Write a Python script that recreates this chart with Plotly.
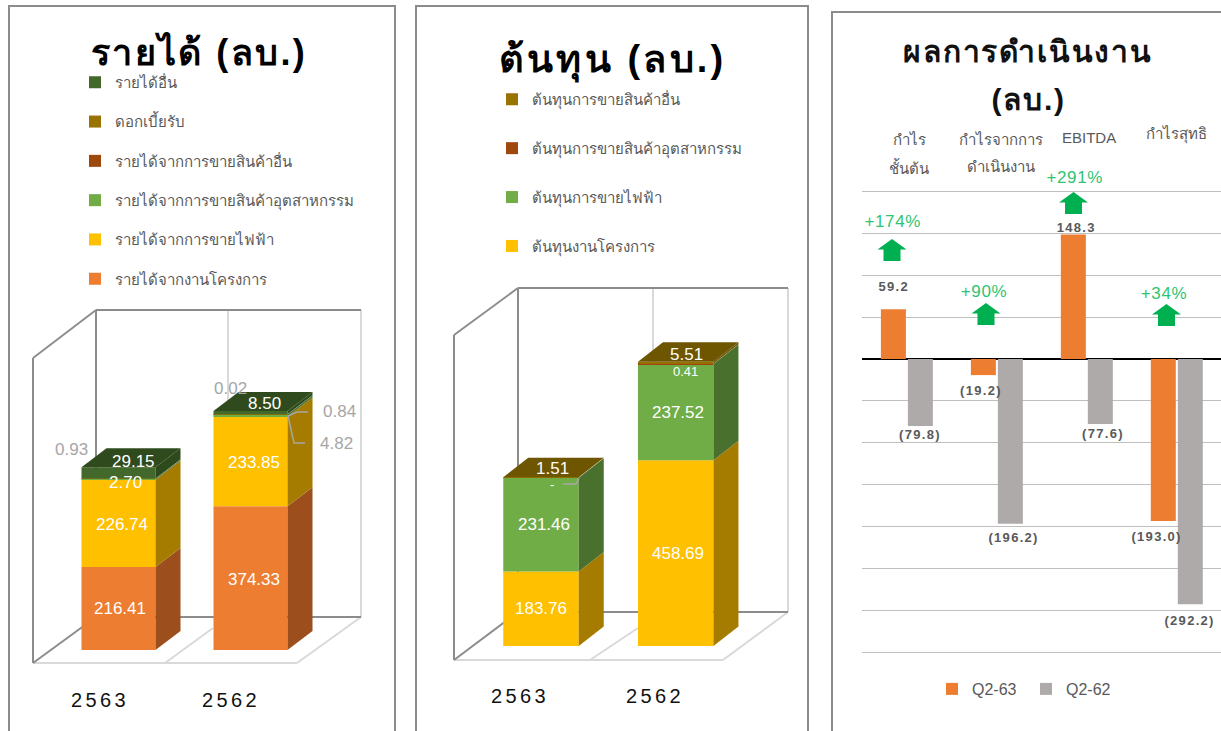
import plotly.graph_objects as go

W, H = 1221, 731
FONT = "Liberation Sans, Noto Sans, DejaVu Sans, sans-serif"

# ---------- data ----------
years = ["2563", "2562"]
rev_names = ["รายได้จากงานโครงการ", "รายได้จากการขายไฟฟ้า", "รายได้จากการขายสินค้าอุตสาหกรรม",
             "รายได้จากการขายสินค้าอื่น", "ดอกเบี้ยรับ", "รายได้อื่น"]
rev_project = [216.41, 374.33]
rev_power = [226.74, 233.85]
rev_industry = [2.70, 4.82]
rev_goods = [0.0, 0.02]
rev_interest = [0.93, 0.84]
rev_other = [29.15, 8.50]

cost_names = ["ต้นทุนงานโครงการ", "ต้นทุนการขายไฟฟ้า", "ต้นทุนการขายสินค้าอุตสาหกรรม", "ต้นทุนการขายสินค้าอื่น"]
cost_project = [183.76, 458.69]
cost_power = [231.46, 237.52]
cost_industry = [0.0, 0.41]
cost_goods = [1.51, 5.51]

perf_categories = ["กำไรขั้นต้น", "กำไรจากการดำเนินงาน", "EBITDA", "กำไรสุทธิ"]
q2_63 = [59.2, -19.2, 148.3, -193.0]
q2_62 = [-79.8, -196.2, -77.6, -292.2]
perf_changes = ["+174%", "+90%", "+291%", "+34%"]

# ---------- styles ----------
ORANGE, YELLOW, GREEN, BROWN, OLIVE, DGREEN = "#ED7D31", "#FFC000", "#70AD47", "#9E480E", "#997300", "#43682B"
SIDE = {ORANGE: "#9C4F1D", YELLOW: "#A67C00", GREEN: "#4A702E", BROWN: "#6B310A", OLIVE: "#6E5300", DGREEN: "#2D4A1C"}
TOP = {OLIVE: "#6E5500", DGREEN: "#2F4B1D"}
GREY_BAR = "#AEAAAA"
LBL_GREY = "#A6A6A6"
TXT = "#595959"

P1 = dict(x0=118.5, xs=132.0, y0=650.0, ys=0.384, bw=74, dx=25, dy=19, dom=(11, 393, 300, 686))
P2 = dict(x0=541.0, xs=134.7, y0=646.0, ys=0.405, bw=75.5, dx=25, dy=19.5, dom=(418, 806, 280, 682))


def X(p, px):
    return (px - p["x0"]) / p["xs"]


def Y(p, py):
    return (p["y0"] - py) / p["ys"]


fig = go.Figure()
shapes, annots = [], []


def note(px, py, text, size=17, color="white", bold=False):
    annots.append(dict(xref="paper", yref="paper", x=px / W, y=1 - py / H, text=f"<b>{text}</b>" if bold else text,
                       showarrow=False, xanchor="center", yanchor="middle",
                       font=dict(family=FONT, size=size, color=color)))


def axes(p, suffix, tickpos):
    l, r, t, b = p["dom"]
    xa = dict(domain=[l / W, r / W], range=[X(p, l), X(p, r)], showgrid=False, zeroline=False, showline=False,
              tickmode="array", tickvals=tickpos, ticktext=years, ticks="", anchor="y" + suffix,
              tickfont=dict(family=FONT, size=20, color="#111111"))
    ya = dict(domain=[1 - b / H, 1 - t / H], range=[Y(p, b), Y(p, t)], showgrid=False, zeroline=False,
              showticklabels=False, anchor="x" + suffix)
    fig.update_layout({"xaxis" + suffix: xa, "yaxis" + suffix: ya})


def stack(p, suffix, names, series, colors, legend):
    pos = [0, 1]
    bases = [0.0, 0.0]
    bw, dx, dy = p["bw"] / p["xs"], p["dx"] / p["xs"], p["dy"] / p["ys"]
    for rank, (name, vals, col) in enumerate(zip(names, series, colors)):
        fig.add_trace(go.Bar(x=pos, y=vals, base=list(bases), name=name, marker=dict(color=col, line_width=0),
                             width=bw, xaxis="x" + suffix, yaxis="y" + suffix, legend=legend, legendgroup=name,
                             legendrank=100 - rank, hoverinfo="skip"))
        for i in pos:
            b, t = bases[i], bases[i] + vals[i]
            if vals[i] <= 0:
                continue
            xr = i + bw / 2
            fig.add_trace(go.Scatter(x=[xr, xr + dx, xr + dx, xr, xr], y=[b, b + dy, t + dy, t, b], mode="lines",
                                     fill="toself", fillcolor=SIDE[col], line=dict(width=0), showlegend=False,
                                     xaxis="x" + suffix, yaxis="y" + suffix, hoverinfo="skip"))
        bases = [bases[j] + vals[j] for j in pos]
    for i in pos:
        col = colors[-1]
        xl, xr, t = i - bw / 2, i + bw / 2, bases[i]
        fig.add_trace(go.Scatter(x=[xl, xr, xr + dx, xl + dx, xl], y=[t, t, t + dy, t + dy, t], mode="lines",
                                 fill="toself", fillcolor=TOP[col], line=dict(width=0), showlegend=False,
                                 xaxis="x" + suffix, yaxis="y" + suffix, hoverinfo="skip"))


def walls(p, suffix, backx, backtop, backbot, frontx, fronttop, frontbot, floorright, midback, midfront, midjoin):
    def seg(a, b, c, d, col, w):
        shapes.append(dict(type="line", xref="x" + suffix, yref="y" + suffix, x0=X(p, a), y0=Y(p, b), x1=X(p, c),
                           y1=Y(p, d), line=dict(color=col, width=w), layer="below"))
    light, dark = "#D9D9D9", "#8C8C8C"
    seg(midback, backtop, midback, backbot, light, 2)
    seg(backx[1], backtop, backx[1], backbot, light, 2)
    seg(frontx, frontbot, floorright, frontbot, light, 2)
    seg(floorright, frontbot, backx[1], backbot, light, 2)
    seg(midfront, frontbot, midjoin[0], midjoin[1], light, 2)
    seg(backx[0], backtop, backx[1], backtop, dark, 2)
    seg(backx[0], backbot, backx[1], backbot, dark, 2)
    seg(backx[0], backtop, backx[0], backbot, dark, 2)
    seg(frontx, fronttop, frontx, frontbot, dark, 2)
    seg(frontx, fronttop, backx[0], backtop, dark, 2)
    seg(frontx, frontbot, backx[0], backbot, dark, 2)


# ---------- panel frames ----------
for a, b, c in [(9, 395, 6), (416, 808, 6), (832, 1225, 12)]:
    shapes.append(dict(type="path", xref="paper", yref="paper",
                       path=f"M{a/W},{0} L{a/W},{1-c/H} L{b/W},{1-c/H} L{b/W},0", line=dict(color="#8C8C8C", width=2)))

# ---------- panel 1 ----------
axes(P1, "", [X(P1, 100), X(P1, 231)])
walls(P1, "", (96, 361), 310, 617, 33, 358, 663, 297, 228, 165, (213, 628))
stack(P1, "", rev_names, [rev_project, rev_power, rev_industry, rev_goods, rev_interest, rev_other],
      [ORANGE, YELLOW, GREEN, BROWN, OLIVE, DGREEN], "legend")
note(199, 52, "รายได้ (ลบ.)", 36, "#000000", True)
for px, py, v in [(120, 608, rev_project[0]), (122, 524, rev_power[0]), (254, 462, rev_power[1]),
                  (254, 579, rev_project[1]), (125, 482, rev_industry[0]), (133, 461, rev_other[0]),
                  (264, 403, rev_other[1])]:
    note(px, py, f"{v:.2f}")
for px, py, v in [(71, 449, rev_interest[0]), (230, 388, rev_goods[1]), (339, 411, rev_interest[1]),
                  (336, 443, rev_industry[1])]:
    note(px, py, f"{v:.2f}", color=LBL_GREY)
for xs, ys in [([288, 297, 308], [416, 412, 412]), ([288, 294, 305], [416, 443, 443])]:
    fig.add_trace(go.Scatter(x=[X(P1, a) for a in xs], y=[Y(P1, b) for b in ys], mode="lines", showlegend=False,
                             line=dict(color=LBL_GREY, width=1.5), xaxis="x", yaxis="y", hoverinfo="skip"))

# ---------- panel 2 ----------
axes(P2, "2", [X(P2, 520), X(P2, 655)])
walls(P2, "2", (518, 788), 288, 612, 454, 335, 660, 723, 653, 590, (638, 628))
stack(P2, "2", cost_names, [cost_project, cost_power, cost_industry, cost_goods], [YELLOW, GREEN, BROWN, OLIVE], "legend2")
note(612, 60, "ต้นทุน (ลบ.)", 38, "#000000", True)
for px, py, v in [(541, 608, cost_project[0]), (544, 524, cost_power[0]), (678, 412, cost_power[1]),
                  (678, 553, cost_project[1]), (552, 468, cost_goods[0]), (686, 354, cost_goods[1])]:
    note(px, py, f"{v:.2f}")
note(685, 371, f"{cost_industry[1]:.2f}", 13)
note(552, 484, "-", 13)
fig.add_trace(go.Scatter(x=[X(P2, a) for a in [563, 576, 579]], y=[Y(P2, b) for b in [484, 484, 478]], mode="lines",
                         showlegend=False, line=dict(color=LBL_GREY, width=1.5), xaxis="x2", yaxis="y2", hoverinfo="skip"))

# ---------- panel 3 ----------
YS3 = 41.96 / 50
fig.update_layout(
    xaxis3=dict(domain=[862 / W, 1], range=[-0.5, 3.49], showgrid=False, zeroline=False, showticklabels=False,
                ticks="", anchor="y3"),
    yaxis3=dict(domain=[1 - 656 / H, 1 - 188 / H], range=[(359 - 656) / YS3, (359 - 188) / YS3], tick0=0, dtick=50,
                showgrid=True, gridcolor="#BFBFBF", gridwidth=1, zeroline=True, zerolinecolor="#000000",
                zerolinewidth=2, showticklabels=False, ticks="", anchor="x3"),
)
pos3 = [0, 1, 2, 3]
bw3 = 25 / 90
fig.add_trace(go.Bar(x=pos3, y=q2_63, name="Q2-63", marker=dict(color=ORANGE, line_width=0), width=bw3, offset=-0.29,
                     xaxis="x3", yaxis="y3", legend="legend3", hoverinfo="skip"))
fig.add_trace(go.Bar(x=pos3, y=q2_62, name="Q2-62", marker=dict(color=GREY_BAR, line_width=0), width=bw3, offset=0.01,
                     xaxis="x3", yaxis="y3", legend="legend3", hoverinfo="skip"))
note(1028, 51, "ผลการดำเนินงาน", 30, "#111111", True)
note(1028, 100, "(ลบ.)", 30, "#111111", True)
for px, py, t in [(909, 139, "กำไร"), (909, 167, "ชั้นต้น"), (1001, 139, "กำไรจากการ"), (1001, 166, "ดำเนินงาน"),
                  (1089, 137, perf_categories[2]), (1176, 134, perf_categories[3])]:
    note(px, py, t, 15, TXT)


def fmt(v):
    return f"({abs(v):.1f})" if v < 0 else f"{v:.1f}"


for px, py, v in [(894, 287, q2_63[0]), (981, 391, q2_63[1]), (1076, 228, q2_63[2]), (1156, 536, q2_63[3]),
                  (920, 434, q2_62[0]), (1013, 537, q2_62[1]), (1103, 433, q2_62[2]), (1189, 620, q2_62[3])]:
    note(px, py, fmt(v), 13, TXT, True)

for (cx, top), (tx, ty), t in zip([(892, 239), (986, 303), (1073.5, 192), (1166.5, 304)],
                                  [(892, 221), (984, 291), (1074, 177), (1164, 293)], perf_changes):
    pts = [(cx, top), (cx + 14.5, top + 10.5), (cx + 8.5, top + 10.5), (cx + 8.5, top + 22), (cx - 8.5, top + 22),
           (cx - 8.5, top + 10.5), (cx - 14.5, top + 10.5)]
    path = "M" + " L".join(f"{a/W},{1-b/H}" for a, b in pts) + " Z"
    shapes.append(dict(type="path", xref="paper", yref="paper", path=path, fillcolor="#00B050", line=dict(width=0)))
    note(tx, ty, t, 17, "#2FC472")

# ---------- legends ----------
def leg(px, py, gap, size=15):
    return dict(x=px / W, y=1 - py / H, xanchor="left", yanchor="top", bgcolor="rgba(0,0,0,0)", borderwidth=0,
                traceorder="grouped", tracegroupgap=gap, font=dict(family=FONT, size=size, color=TXT),
                itemclick=False, itemdoubleclick=False)


fig.update_layout(
    width=W, height=H, margin=dict(l=0, r=0, t=0, b=0), paper_bgcolor="white", plot_bgcolor="rgba(0,0,0,0)",
    barmode="overlay", showlegend=True, shapes=shapes, annotations=annots,
    legend=leg(75, 66, 16.8), legend2=leg(492, 83, 26.4),
    legend3=dict(x=932 / W, y=1 - 672 / H, xanchor="left", yanchor="top", orientation="h", bgcolor="rgba(0,0,0,0)",
                 entrywidth=49, entrywidthmode="pixels",
                 font=dict(family=FONT, size=16, color=TXT), itemclick=False, itemdoubleclick=False),
)

# the reference's text is widely tracked; plotly has no letter-spacing attribute
POST = """
document.body.style.margin='0';document.body.style.overflow='hidden';
var track={'รายได้ (ลบ.)':2.4,'ต้นทุน (ลบ.)':3.2,'ผลการดำเนินงาน':1.8,'(ลบ.)':1.8,
 '+174%':0.6,'+90%':0.6,'+291%':0.6,'+34%':0.6};
document.querySelectorAll('.annotation-text').forEach(function(t){
  var s=t.textContent; var v=track[s];
  if(v===undefined && /^\\(?[0-9.]+\\)?$/.test(s) && t.querySelector('[style*="bold"]')) v=1.3;
  if(v!==undefined) t.style.letterSpacing=v+'px';
});
document.querySelectorAll('.xtick text, .x2tick text').forEach(function(t){t.style.letterSpacing='3.4px';});
document.querySelectorAll('.legendtext').forEach(function(t){
  if(t.textContent.indexOf('Q2')===0) t.style.letterSpacing='0.9px';
});
"""
fig.write_html("out.html", config={"displayModeBar": False}, post_script=POST)
